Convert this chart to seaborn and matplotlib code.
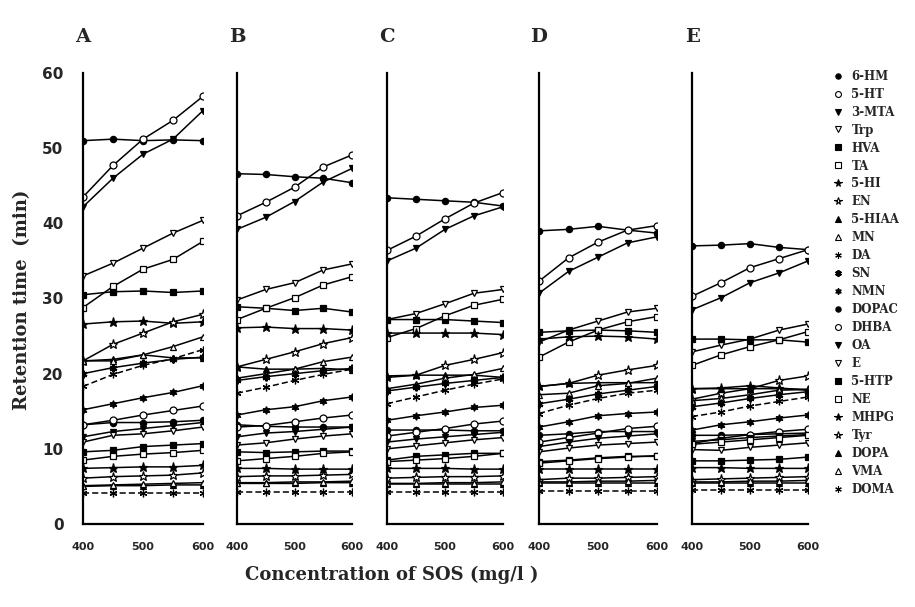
import matplotlib
matplotlib.use("Agg")
import matplotlib.pyplot as plt
from matplotlib.lines import Line2D
import seaborn as sns

sns.set_theme(style="white")
plt.rcParams['font.family'] = ['DejaVu Serif', 'DejaVu Sans']

conc = [400, 450, 500, 550, 600]
panels = ["A", "B", "C", "D", "E"]

# retention times (min), one list per panel A..E
hm6   = [[51.0, 51.2, 51.0, 51.1, 51.0], [46.6, 46.5, 46.2, 46.0, 45.4], [43.4, 43.2, 43.0, 42.8, 42.3], [39.0, 39.2, 39.6, 39.1, 38.7], [37.0, 37.1, 37.3, 36.8, 36.5]]
ht5   = [[43.5, 47.7, 51.2, 53.7, 56.9], [41.0, 42.8, 44.8, 47.5, 49.1], [36.4, 38.3, 40.6, 42.7, 44.1], [32.3, 35.4, 37.5, 39.1, 39.7], [30.3, 32.1, 34.1, 35.3, 36.5]]
mta3  = [[42.2, 46.0, 49.2, 51.2, 55.0], [39.2, 40.8, 42.9, 45.5, 47.3], [35.0, 36.7, 39.2, 41.0, 42.2], [30.7, 33.6, 35.5, 37.4, 38.2], [28.5, 30.1, 32.1, 33.4, 35.0]]
trp   = [[33.0, 34.7, 36.7, 38.7, 40.4], [29.8, 31.2, 32.1, 33.8, 34.6], [27.2, 28.0, 29.3, 30.7, 31.2], [24.2, 25.8, 27.0, 28.2, 28.7], [22.9, 23.8, 24.6, 25.8, 26.6]]
hva   = [[30.5, 30.9, 31.0, 30.8, 31.0], [28.9, 28.7, 28.4, 28.7, 28.2], [27.2, 27.2, 27.2, 27.0, 26.8], [25.5, 25.7, 25.8, 25.7, 25.5], [24.6, 24.6, 24.5, 24.5, 24.2]]
ta    = [[28.8, 31.6, 33.9, 35.2, 37.6], [27.2, 28.7, 30.1, 31.8, 32.9], [24.8, 26.0, 27.7, 29.1, 29.9], [22.2, 24.2, 25.8, 26.9, 27.6], [21.1, 22.5, 23.6, 24.5, 25.6]]
hi5   = [[26.6, 26.9, 27.0, 26.7, 26.9], [26.1, 26.2, 26.0, 26.0, 25.8], [25.4, 25.4, 25.4, 25.4, 25.2], [24.6, 24.9, 25.0, 24.9, 24.6], [18.0, 18.1, 18.4, 18.1, 17.8]]
en    = [[21.7, 23.9, 25.4, 26.9, 27.9], [20.9, 21.9, 22.9, 24.0, 24.8], [19.5, 19.8, 21.1, 21.9, 22.8], [18.3, 18.7, 19.8, 20.5, 21.1], [16.6, 17.4, 18.0, 19.1, 19.7]]
hiaa5 = [[21.7, 21.9, 22.5, 22.1, 22.1], [20.9, 20.6, 20.6, 20.7, 20.5], [19.7, 19.8, 19.8, 19.8, 19.5], [18.3, 18.7, 18.8, 18.8, 18.8], [18.0, 18.0, 18.0, 18.0, 17.9]]
mn    = [[21.7, 21.7, 22.5, 23.6, 24.9], [19.4, 20.0, 20.6, 21.6, 22.2], [18.0, 18.6, 19.4, 19.9, 20.7], [17.2, 17.4, 18.4, 18.7, 19.4], [16.4, 16.7, 17.2, 17.8, 17.9]]
da    = [[18.3, 19.9, 21.1, 22.0, 23.2], [17.4, 18.2, 19.1, 19.9, 20.6], [16.0, 16.9, 17.8, 18.6, 19.3], [14.7, 15.8, 16.7, 17.4, 17.8], [14.3, 14.9, 15.7, 16.3, 16.9]]
sn    = [[20.0, 20.8, 21.4, 21.9, 22.2], [19.1, 19.6, 20.0, 20.4, 20.7], [17.7, 18.2, 18.7, 19.1, 19.5], [16.0, 16.6, 17.3, 17.8, 18.3], [15.6, 16.1, 16.7, 17.2, 17.6]]
nmn   = [[15.2, 16.0, 16.8, 17.5, 18.4], [14.5, 15.2, 15.6, 16.4, 16.9], [13.8, 14.4, 14.9, 15.5, 15.8], [12.9, 13.6, 14.4, 14.7, 14.9], [12.5, 13.2, 13.6, 14.1, 14.5]]
dopac = [[13.2, 13.5, 13.5, 13.6, 13.8], [13.2, 13.0, 12.9, 12.9, 12.9], [12.5, 12.5, 12.5, 12.4, 12.4], [11.8, 12.0, 12.3, 12.3, 12.3], [11.8, 11.8, 11.9, 12.0, 12.1]]
dhba  = [[13.2, 13.8, 14.5, 15.1, 15.7], [12.9, 13.1, 13.6, 14.1, 14.5], [11.7, 12.2, 12.7, 13.3, 13.7], [10.9, 11.5, 12.1, 12.7, 13.0], [10.7, 11.4, 11.9, 12.3, 12.6]]
oa    = [[11.6, 12.3, 12.7, 13.1, 13.5], [11.6, 12.1, 12.3, 12.6, 12.9], [10.9, 11.3, 11.6, 11.9, 12.2], [10.3, 10.9, 11.4, 11.7, 12.0], [11.0, 11.2, 11.5, 11.7, 11.9]]
epi   = [[10.9, 11.8, 12.0, 12.4, 12.9], [10.5, 10.8, 11.3, 11.7, 12.0], [10.0, 10.4, 10.8, 11.2, 11.5], [9.6, 10.1, 10.5, 10.7, 10.9], [9.9, 9.8, 10.2, 10.5, 10.8]]
htp5  = [[9.6, 9.8, 10.3, 10.5, 10.7], [9.6, 9.5, 9.6, 9.7, 9.7], [8.5, 9.0, 9.2, 9.4, 9.4], [8.3, 8.5, 8.8, 9.0, 9.0], [8.4, 8.4, 8.5, 8.6, 8.9]]
ne    = [[8.5, 9.0, 9.3, 9.5, 9.8], [8.4, 8.7, 9.0, 9.4, 9.6], [8.3, 8.5, 8.7, 9.0, 9.4], [8.1, 8.4, 8.7, 8.9, 9.1], [10.6, 10.9, 11.2, 11.5, 11.8]]
mhpg  = [[7.4, 7.5, 7.6, 7.6, 7.8], [7.4, 7.4, 7.3, 7.3, 7.3], [7.4, 7.4, 7.4, 7.3, 7.3], [7.3, 7.3, 7.3, 7.3, 7.3], [7.5, 7.5, 7.4, 7.4, 7.4]]
tyr   = [[6.1, 6.3, 6.4, 6.5, 6.8], [6.3, 6.4, 6.4, 6.5, 6.6], [6.1, 6.2, 6.3, 6.3, 6.4], [5.9, 6.1, 6.1, 6.2, 6.3], [5.9, 6.0, 6.1, 6.2, 6.3]]
dopa  = [[5.0, 5.1, 5.1, 5.2, 5.2], [5.4, 5.4, 5.4, 5.5, 5.5], [5.3, 5.3, 5.3, 5.3, 5.3], [5.5, 5.5, 5.5, 5.5, 5.5], [5.5, 5.5, 5.5, 5.5, 5.5]]
vma   = [[5.1, 5.2, 5.3, 5.4, 5.5], [5.5, 5.5, 5.6, 5.6, 5.7], [5.4, 5.4, 5.5, 5.5, 5.6], [5.6, 5.6, 5.7, 5.7, 5.8], [5.6, 5.6, 5.7, 5.7, 5.8]]
doma  = [[4.1, 4.1, 4.1, 4.1, 4.1], [4.3, 4.3, 4.3, 4.3, 4.3], [4.3, 4.3, 4.3, 4.3, 4.3], [4.4, 4.4, 4.4, 4.4, 4.4], [4.5, 4.5, 4.5, 4.5, 4.5]]

names = ["6-HM", "5-HT", "3-MTA", "Trp", "HVA", "TA", "5-HI", "EN", "5-HIAA", "MN",
         "DA", "SN", "NMN", "DOPAC", "DHBA", "OA", "E", "5-HTP", "NE", "MHPG",
         "Tyr", "DOPA", "VMA", "DOMA"]
series = [hm6, ht5, mta3, trp, hva, ta, hi5, en, hiaa5, mn, da, sn, nmn, dopac, dhba,
          oa, epi, htp5, ne, mhpg, tyr, dopa, vma, doma]

# styles: (marker, filled, dashed, size)
AST = (6, 2, 0)
HEX = (6, 1, 0)
styles = [("o", True, False, 4.5), ("o", False, False, 5), ("v", True, False, 5), ("v", False, False, 5),
          ("s", True, False, 4.5), ("s", False, False, 4.5), ("*", True, False, 6.5), ("*", False, False, 6.5),
          ("^", True, False, 5), ("^", False, False, 5), (AST, False, True, 5.5), (AST, True, False, 5.5),
          (HEX, True, False, 5.5), ("o", True, False, 4.5), ("o", False, False, 5), ("v", True, False, 5),
          ("v", False, False, 5), ("s", True, False, 4.5), ("s", False, False, 4.5), ("*", True, False, 6.5),
          ("*", False, False, 6.5), ("^", True, False, 5), ("^", False, False, 5), (AST, False, True, 5.5)]

W, H = 915, 607
fig = plt.figure(figsize=(W / 100, H / 100), dpi=100)
lefts = [83, 237, 387, 539, 692]
widths = [120, 115, 116, 118, 116]
bottom_px, top_px = 524, 73

axes = []
for i, p in enumerate(panels):
    ax = fig.add_axes([lefts[i] / W, (H - bottom_px) / H, widths[i] / W, (bottom_px - top_px) / H])
    axes.append(ax)
    for name, data, (mk, filled, dashed, ms) in zip(names, series, styles):
        kw = dict(marker=mk, markersize=ms, markeredgecolor="black",
                  markerfacecolor="black" if filled else "white",
                  markeredgewidth=1.6 if mk == AST and filled else 0.9,
                  linewidth=1.1, linestyle=(0, (4, 2)) if dashed else "-")
        sns.lineplot(x=conc, y=data[i], ax=ax, color="black", errorbar=None,
                     legend=False, **kw)
    ax.set_xlim(400, 600)
    ax.set_ylim(0, 60)
    ax.set_xticks([400, 500, 600])
    ax.set_xticks([450, 550], minor=True)
    ax.set_yticks(range(0, 61, 10))
    for s in ["top", "right"]:
        ax.spines[s].set_visible(False)
    for s in ["left", "bottom"]:
        ax.spines[s].set_color("black")
        ax.spines[s].set_linewidth(1.6)
    ax.tick_params(axis="both", which="both", direction="in", color="black", width=1.4)
    ax.tick_params(axis="x", which="major", length=5, pad=13, labelsize=8)
    ax.tick_params(axis="x", which="minor", length=5)
    ax.tick_params(axis="y", length=5, pad=14, labelsize=11)
    ax.set_xlabel("")
    ax.set_ylabel("")
    for lab in ax.get_xticklabels():
        lab.set_fontfamily("DejaVu Sans")
        lab.set_fontweight("bold")
    if i == 0:
        for lab in ax.get_yticklabels():
            lab.set_fontfamily("DejaVu Sans")
            lab.set_fontweight("bold")
    else:
        ax.set_yticklabels([])
    ax.patch.set_alpha(0)
    fig.text(lefts[i] / W, 1 - 37 / H, p, ha="center", va="center",
             fontsize=14, fontweight="bold", family="DejaVu Serif")

fig.text(22 / W, 1 - 300 / H, "Retention time  (min)", rotation=90, ha="center", va="center",
         fontsize=13, fontweight="bold", family="DejaVu Serif")
fig.text(392 / W, 1 - 575 / H, "Concentration of SOS (mg/l )", ha="center", va="center",
         fontsize=13, fontweight="bold", family="DejaVu Serif")

handles = []
for name, (mk, filled, dashed, ms) in zip(names, styles):
    handles.append(Line2D([], [], linestyle="None", marker=mk, markersize=ms * 0.85,
                          markeredgecolor="black", markerfacecolor="black" if filled else "white",
                          markeredgewidth=1.4 if mk == AST and filled else 0.8))
fig.legend(handles, names, loc="upper left", bbox_to_anchor=(829 / W, 1 - 65 / H),
           frameon=False, handlelength=0.8, handletextpad=0.7, labelspacing=0.42,
           prop=dict(family="DejaVu Serif", weight="bold", size=8.5), borderaxespad=0)

fig.savefig("out.png", dpi=100)
